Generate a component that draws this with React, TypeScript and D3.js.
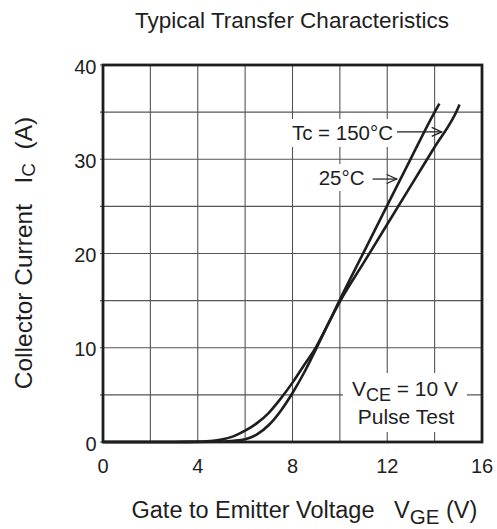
import React from 'react';
import * as d3 from 'd3';

// ---- data ----
const vgeTicks = [0, 4, 8, 12, 16];
const icTicks = [0, 10, 20, 30, 40];
const vgeGrid = [0, 2, 4, 6, 8, 10, 12, 14, 16];
const icGrid = [0, 5, 10, 15, 20, 25, 30, 35, 40];

// Tc = 25 °C
const vge25 = [0, 3, 4, 5, 5.5, 6, 6.5, 7, 7.5, 8, 8.5, 9, 9.5, 10, 11, 12, 13, 14, 14.2];
const ic25 = [0, 0, 0.01, 0.05, 0.12, 0.28, 0.8, 1.8, 3.3, 5.2, 7.4, 9.9, 12.5, 15.1, 20.1, 25.1, 30.1, 35.0, 35.9];

// Tc = 150 °C
const vge150 = [0, 3, 3.5, 4, 4.5, 5, 5.5, 6, 6.5, 7, 7.5, 8, 8.5, 9, 9.5, 10, 11, 12, 13, 14, 15, 15.05];
const ic150 = [0, 0, 0.01, 0.03, 0.1, 0.25, 0.6, 1.2, 2.0, 3.1, 4.6, 6.3, 8.2, 10.1, 12.5, 14.9, 19.0, 23.1, 27.2, 31.3, 35.5, 35.8];

// annotation arrow tips (data coords)
const arrowLabels = ['Tc = 150°C', '25°C'];
const arrowTipV = [14.3, 12.4];
const arrowTipI = [32.9, 27.9];

const FONT = '"Liberation Sans", Arial, Helvetica, sans-serif';
const INK = '#1e1e1e';

export default function App() {
  const W = 497, H = 529;
  const left = 103, right = 482, top = 65, bottom = 442;
  const x = d3.scaleLinear().domain([0, 16]).range([left, right]);
  const y = d3.scaleLinear().domain([0, 40]).range([bottom, top]);

  const line = d3
    .line<[number, number]>()
    .x((d) => x(d[0]))
    .y((d) => y(d[1]))
    .curve(d3.curveMonotoneX);

  const d25 = line(vge25.map((v, i) => [v, ic25[i]]) as [number, number][]) || '';
  const d150 = line(vge150.map((v, i) => [v, ic150[i]]) as [number, number][]) || '';

  // arrow tails (pixel layout)
  const tailX = [397, 372.5];
  const textEnd = [393, 364.5];
  const textBaseline = [140, 185];
  const bgRects = [
    { x: 286, y: 119, w: 110, h: 28 },
    { x: 315, y: 164, w: 53, h: 27 },
    { x: 343, y: 373, w: 124, h: 59 },
  ];

  return (
    <svg
      width={W}
      height={H}
      style={{ position: 'absolute', left: 0, top: 0, background: '#fff' }}
      fontFamily={FONT}
    >
      <rect x={0} y={0} width={W} height={H} fill="#fff" />
      {/* title */}
      <text x={292} y={27.5} fontSize={22.5} textAnchor="middle" fill={INK}>
        Typical Transfer Characteristics
      </text>

      {/* grid */}
      <g stroke="#555" strokeWidth={1.1}>
        {vgeGrid.map((v) => (
          <line key={'gx' + v} x1={x(v)} x2={x(v)} y1={top} y2={bottom} />
        ))}
        {icGrid.map((v) => (
          <line key={'gy' + v} x1={left - 3} x2={right} y1={y(v)} y2={y(v)} />
        ))}
      </g>

      {/* white label backgrounds */}
      {bgRects.map((r, i) => (
        <rect key={'bg' + i} x={r.x} y={r.y} width={r.w} height={r.h} fill="#fff" />
      ))}

      {/* curves */}
      <path d={d150} fill="none" stroke={INK} strokeWidth={2.6} strokeLinejoin="round" />
      <path d={d25} fill="none" stroke={INK} strokeWidth={2.6} strokeLinejoin="round" />

      {/* frame */}
      <rect
        x={left}
        y={top}
        width={right - left}
        height={bottom - top}
        fill="none"
        stroke={INK}
        strokeWidth={2.8}
      />

      {/* x tick labels */}
      {vgeTicks.map((v) => (
        <text key={'xt' + v} x={x(v)} y={473} fontSize={20} textAnchor="middle" fill={INK}>
          {v}
        </text>
      ))}
      {/* y tick labels */}
      {icTicks.map((v) => (
        <text
          key={'yt' + v}
          x={96.5}
          y={y(v) + 1.5}
          fontSize={20}
          textAnchor="end"
          dominantBaseline="central"
          fill={INK}
        >
          {v}
        </text>
      ))}

      {/* axis titles */}
      <text x={131.5} y={518} fontSize={23.5} fill={INK} style={{ whiteSpace: 'pre' }}>
        {'Gate to Emitter Voltage   V'}
        <tspan fontSize={20.5} dy={6}>GE</tspan>
        <tspan dy={-6}>{' (V)'}</tspan>
      </text>
      <text
        transform="translate(31.5,253) rotate(-90)"
        x={0}
        y={0}
        fontSize={24.5}
        textAnchor="middle"
        fill={INK}
        style={{ whiteSpace: 'pre' }}
      >
        {'Collector Current   I'}
        <tspan fontSize={19} dy={3}>C</tspan>
        <tspan dy={-3}>{'  (A)'}</tspan>
      </text>

      {/* arrow annotations */}
      {arrowLabels.map((lab, i) => {
        const tx = x(arrowTipV[i]);
        const ty = y(arrowTipI[i]);
        const sx = tailX[i];
        const ang = Math.atan2(ty - ty, tx - sx);
        const L = 10, Wd = 4.5;
        const bx = tx - L * Math.cos(ang);
        const by = ty - L * Math.sin(ang);
        const px = -Math.sin(ang), py = Math.cos(ang);
        return (
          <g key={'ann' + i}>
            <text x={textEnd[i]} y={textBaseline[i]} fontSize={20.5} textAnchor="end" fill={INK}>
              {lab}
            </text>
            <line x1={sx} y1={ty} x2={tx} y2={ty} stroke={INK} strokeWidth={1.2} />
            <path
              d={`M${bx + px * Wd},${by + py * Wd} L${tx},${ty} L${bx - px * Wd},${by - py * Wd}`}
              fill="none"
              stroke={INK}
              strokeWidth={1.2}
            />
          </g>
        );
      })}

      {/* test conditions */}
      <text x={405} y={396} fontSize={21} textAnchor="middle" fill={INK} style={{ whiteSpace: 'pre' }}>
        {'V'}
        <tspan fontSize={18} dy={5}>CE</tspan>
        <tspan dy={-5}>{' = 10 V'}</tspan>
      </text>
      <text x={406} y={423.5} fontSize={21} textAnchor="middle" fill={INK}>
        Pulse Test
      </text>
    </svg>
  );
}
